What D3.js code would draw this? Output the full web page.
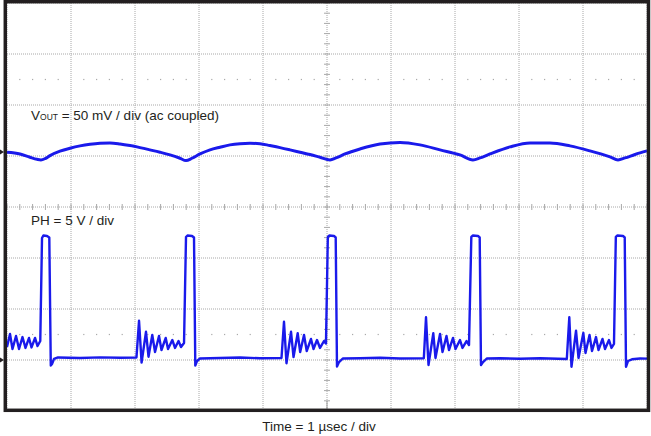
<!DOCTYPE html>
<html lang="en">
<head>
    <meta charset="utf-8">
    <title>Scope capture</title>
    <script src="https://d3js.org/d3.v7.min.js"></script>
    <style>
     body { margin: 0; background: white; }
     svg text {
        font-family: "Liberation Sans", Arial, sans-serif;
        fill: #231f20;
     }
    </style>
</head>
<body>
    <div id="chart"></div>
    <script>
        // screen divisions
        const timeDivs = d3.range(0, 11);       // usec, 1 usec / div
        const voltDivs = d3.range(-4, 5);       // divisions from center
        const ch1Ground = 1.08;                 // div, VOUT marker
        const ch2Ground = -3;                   // div, PH marker

        const voutLabel = ["V", "OUT", " = 50 mV / div (ac coupled)"];
        const phLabel = "PH = 5 V / div";
        const timeLabel = "Time = 1 \u00b5sec / div";

        // VOUT ripple, [usec, mV]
        const voutTrace = [
            [0, -0.3], [0.203, -2.0], [0.359, -5.2], [0.469, -7.2], [0.531, -7.8],
            [0.594, -6.6], [0.672, -3.6], [0.828, 0.7], [0.984, 3.6], [1.141, 5.9],
            [1.297, 7.5], [1.453, 8.5], [1.609, 8.8], [1.766, 7.8], [1.922, 6.2],
            [2.078, 4.2], [2.234, 2.0], [2.391, -0.3], [2.547, -2.9], [2.703, -6.2],
            [2.797, -8.5], [2.891, -6.2], [3.016, -2.0], [3.172, 2.0], [3.328, 4.6],
            [3.484, 6.9], [3.641, 8.1], [3.797, 8.5], [3.953, 8.1], [4.109, 6.2],
            [4.266, 4.2], [4.422, 2.0], [4.578, -0.3], [4.734, -2.6], [4.891, -5.2],
            [5.047, -7.8], [5.141, -5.9], [5.281, -2.0], [5.516, 2.9], [5.828, 7.8],
            [6.141, 9.3], [6.453, 6.9], [6.766, 2.0], [7.078, -2.9], [7.281, -7.8],
            [7.391, -5.9], [7.547, -2.0], [7.859, 4.9], [8.172, 8.8], [8.484, 8.8],
            [8.797, 5.9], [9.109, 1.0], [9.422, -4.9], [9.547, -7.8], [9.656, -5.9],
            [9.813, -2.5], [10.0, 1.0]
        ];

        // PH switch node, [usec, V]
        const phTrace = [
            [0, 1.27], [0.047, 2.55], [0.086, 1.08], [0.141, 2.35], [0.188, 1.08],
            [0.242, 2.25], [0.289, 1.18], [0.344, 2.16], [0.383, 1.23], [0.438, 2.16],
            [0.477, 1.37], [0.520, 1.86], [0.547, 11.96], [0.570, 12.21], [0.625, 12.16],
            [0.661, 12.01], [0.684, -0.54], [0.703, -0.39], [0.734, 0.10], [0.797, 0.25],
            [1.141, 0.20], [1.453, 0.26], [1.766, 0.22], [2.023, 0.25],
            [2.063, 3.85], [2.103, -0.26], [2.172, 2.77], [2.211, 0.32], [2.270, 2.45],
            [2.313, 0.78], [2.375, 2.35], [2.414, 0.98], [2.480, 2.16], [2.516, 1.08],
            [2.583, 1.96], [2.625, 1.18], [2.680, 1.86], [2.719, 1.27], [2.766, 1.67],
            [2.797, 12.06], [2.820, 12.21], [2.891, 12.16], [2.922, 12.01], [2.942, -0.54],
            [2.969, -0.10], [3.016, 0.15], [3.328, 0.20], [3.641, 0.25], [3.953, 0.17],
            [4.289, 0.20],
            [4.328, 3.75], [4.367, -0.32], [4.438, 2.77], [4.477, 0.29], [4.542, 2.62],
            [4.581, 0.78], [4.641, 2.45], [4.683, 0.88], [4.750, 2.06], [4.789, 1.08],
            [4.844, 1.96], [4.891, 1.18], [4.953, 1.86], [4.984, 1.62], [5.013, 12.06],
            [5.039, 12.21], [5.109, 12.16], [5.136, 12.01], [5.156, -0.64], [5.188, -0.20],
            [5.250, 0.15], [5.516, 0.17], [5.828, 0.22], [6.141, 0.15], [6.513, 0.17],
            [6.547, 4.19], [6.586, -0.49], [6.661, 2.62], [6.695, 0.20], [6.766, 2.55],
            [6.805, 0.78], [6.867, 2.35], [6.906, 0.98], [6.969, 2.16], [7.008, 1.08],
            [7.078, 1.96], [7.117, 1.18], [7.180, 1.86], [7.219, 1.47], [7.255, 12.06],
            [7.281, 12.21], [7.359, 12.16], [7.386, 12.01], [7.406, -0.49], [7.438, -0.20],
            [7.500, 0.15], [7.703, 0.17], [8.016, 0.12], [8.328, 0.17], [8.747, 0.10],
            [8.786, 4.19], [8.820, -0.66], [8.891, 2.87], [8.930, 0.20], [9.005, 2.65],
            [9.039, 0.69], [9.102, 2.45], [9.141, 0.88], [9.203, 2.25], [9.242, 0.98],
            [9.305, 2.06], [9.344, 1.08], [9.406, 1.96], [9.445, 1.18], [9.484, 1.57],
            [9.513, 12.06], [9.539, 12.21], [9.625, 12.16], [9.652, 12.01], [9.672, -0.66],
            [9.703, -0.10], [9.766, 0.07], [9.891, 0.15], [10.0, 0.13]
        ];

        const width = 651;
        const height = 436;
        const traceColor = "#1a1aeb";
        const gridColor = "#a8a8a8";

        const svg = d3.select("#chart")
            .append("svg")
            .attr("width", width)
            .attr("height", height);

        const x = d3.scaleLinear().domain([0, 10]).range([7, 647]);
        const y = d3.scaleLinear().domain([-4, 4]).range([411, 3]);

        // graticule
        const grid = svg.append("g").attr("class", "grid");
        grid.selectAll("line.v")
            .data(timeDivs)
            .enter().append("line")
                .attr("class", "v")
                .attr("x1", d => x(d)).attr("x2", d => x(d))
                .attr("y1", y(4)).attr("y2", y(-4))
                .attr("stroke", gridColor)
                .attr("stroke-dasharray", "1,1");
        grid.selectAll("line.h")
            .data(voltDivs)
            .enter().append("line")
                .attr("class", "h")
                .attr("x1", x(0)).attr("x2", x(10))
                .attr("y1", d => y(d)).attr("y2", d => y(d))
                .attr("stroke", gridColor)
                .attr("stroke-dasharray", "1,1");

        // minor ticks on the center lines
        const minorT = d3.range(0, 10.01, 0.2);
        const minorV = d3.range(-4, 4.01, 0.2);
        grid.selectAll("line.tx")
            .data(minorT)
            .enter().append("line")
                .attr("x1", d => x(d)).attr("x2", d => x(d))
                .attr("y1", y(0) - 3).attr("y2", y(0) + 3)
                .attr("stroke", gridColor);
        grid.selectAll("line.ty")
            .data(minorV)
            .enter().append("line")
                .attr("x1", x(5) - 3).attr("x2", x(5) + 3)
                .attr("y1", d => y(d)).attr("y2", d => y(d))
                .attr("stroke", gridColor);
        // bottom tick at center
        grid.append("line")
            .attr("x1", x(5)).attr("x2", x(5))
            .attr("y1", y(-4) - 10).attr("y2", y(-4))
            .attr("stroke", "#999");

        // dotted rows at +/- 2.5 div
        const dotRows = [2.5, -2.5];
        dotRows.forEach(r => {
            grid.selectAll(null)
                .data(minorT.filter(t => Math.abs(t - Math.round(t)) > 0.05))
                .enter().append("rect")
                    .attr("x", d => x(d) - 0.6)
                    .attr("y", y(r) - 0.6)
                    .attr("width", 1.2)
                    .attr("height", 1.2)
                    .attr("fill", "#aaa");
        });

        // traces
        const voutLine = d3.line()
            .x(d => x(d[0]))
            .y(d => y(ch1Ground + d[1] / 50));
        const phLine = d3.line()
            .x(d => x(d[0]))
            .y(d => y(ch2Ground + d[1] / 5));

        svg.append("path")
            .datum(voutTrace)
            .attr("d", voutLine.curve(d3.curveMonotoneX))
            .attr("fill", "none")
            .attr("stroke", traceColor)
            .attr("stroke-width", 3);

        svg.append("path")
            .datum(phTrace)
            .attr("d", phLine)
            .attr("fill", "none")
            .attr("stroke", traceColor)
            .attr("stroke-width", 2.4)
            .attr("stroke-linejoin", "round");

        // frame
        svg.append("rect")
            .attr("x", 5.3).attr("y", 1.7)
            .attr("width", 643.2).attr("height", 408.6)
            .attr("fill", "none")
            .attr("stroke", "#231f20")
            .attr("stroke-width", 3.5);

        // ground markers
        [ch1Ground, ch2Ground].forEach(g => {
            const gy = y(g);
            svg.append("path")
                .attr("d", `M0,${gy - 2.5}L4,${gy}L0,${gy + 2.5}Z`)
                .attr("fill", "#231f20");
        });

        // labels
        const vt = svg.append("text")
            .attr("x", 31).attr("y", 120)
            .style("font-size", "13.5px");
        vt.append("tspan").text(voutLabel[0]);
        vt.append("tspan").style("font-size", "8.5px").text(voutLabel[1]);
        vt.append("tspan").text(voutLabel[2]);

        svg.append("text")
            .attr("x", 31).attr("y", 225)
            .style("font-size", "13.5px")
            .text(phLabel);

        svg.append("text")
            .attr("x", 319).attr("y", 431)
            .attr("text-anchor", "middle")
            .style("font-size", "13.5px")
            .text(timeLabel);
    </script>
</body>
</html>
